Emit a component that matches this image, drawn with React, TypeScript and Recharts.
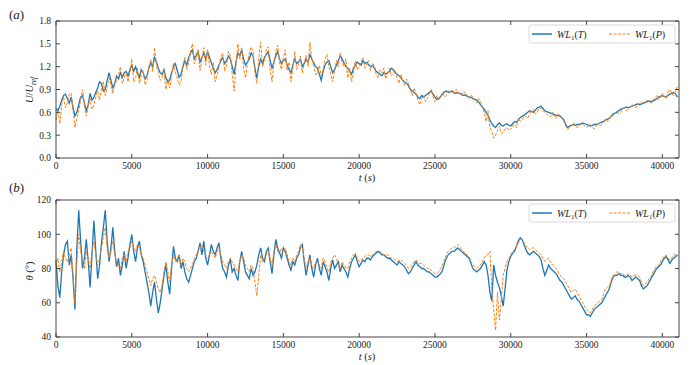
import React from 'react';
import { LineChart, Line, XAxis, YAxis } from 'recharts';

const TIMES = [
  0,125,250,375,500,625,750,875,1000,1125,1250,1375,1500,1625,1750,1875,2000,2125,2250,2375,
  2500,2625,2750,2875,3000,3125,3250,3375,3500,3625,3750,3875,4000,4125,4250,4375,4500,4625,4750,4875,
  5000,5125,5250,5375,5500,5625,5750,5875,6000,6125,6250,6375,6500,6625,6750,6875,7000,7125,7250,7375,
  7500,7625,7750,7875,8000,8125,8250,8375,8500,8625,8750,8875,9000,9125,9250,9375,9500,9625,9750,9875,
  10000,10125,10250,10375,10500,10625,10750,10875,11000,11125,11250,11375,11500,11625,11750,11875,12000,12125,12250,12375,
  12500,12625,12750,12875,13000,13125,13250,13375,13500,13625,13750,13875,14000,14125,14250,14375,14500,14625,14750,14875,
  15000,15125,15250,15375,15500,15625,15750,15875,16000,16125,16250,16375,16500,16625,16750,16875,17000,17125,17250,17375,
  17500,17625,17750,17875,18000,18125,18250,18375,18500,18625,18750,18875,19000,19125,19250,19375,19500,19625,19750,19875,
  20000,20125,20250,20375,20500,20625,20750,20875,21000,21125,21250,21375,21500,21625,21750,21875,22000,22125,22250,22375,
  22500,22625,22750,22875,23000,23125,23250,23375,23500,23625,23750,23875,24000,24125,24250,24375,24500,24625,24750,24875,
  25000,25125,25250,25375,25500,25625,25750,25875,26000,26125,26250,26375,26500,26625,26750,26875,27000,27125,27250,27375,
  27500,27625,27750,27875,28000,28125,28250,28375,28500,28625,28750,28875,29000,29125,29250,29375,29500,29625,29750,29875,
  30000,30125,30250,30375,30500,30625,30750,30875,31000,31125,31250,31375,31500,31625,31750,31875,32000,32125,32250,32375,
  32500,32625,32750,32875,33000,33125,33250,33375,33500,33625,33750,33875,34000,34125,34250,34375,34500,34625,34750,34875,
  35000,35125,35250,35375,35500,35625,35750,35875,36000,36125,36250,36375,36500,36625,36750,36875,37000,37125,37250,37375,
  37500,37625,37750,37875,38000,38125,38250,38375,38500,38625,38750,38875,39000,39125,39250,39375,39500,39625,39750,39875,
  40000,40125,40250,40375,40500,40625,40750,40875,41000,
];

// Panel (a): U/U_ref
const TOP_T = [
  0.65,0.62,0.68,0.76,0.82,0.84,0.78,0.72,0.80,0.66,0.55,0.60,0.70,0.80,0.82,0.72,0.62,0.70,0.85,0.76,
  0.80,0.86,0.92,1.00,0.98,0.88,0.90,1.02,1.12,1.02,0.92,0.98,1.08,1.04,1.12,1.06,1.12,1.14,1.08,1.16,
  1.22,1.14,1.20,1.12,1.06,1.16,1.12,1.04,1.08,1.18,1.25,1.20,1.32,1.26,1.18,1.12,1.10,1.16,1.05,1.00,
  1.02,1.12,1.20,1.24,1.15,1.06,1.10,1.20,1.28,1.22,1.32,1.38,1.42,1.30,1.35,1.40,1.26,1.32,1.38,1.30,
  1.40,1.32,1.25,1.18,1.12,1.16,1.22,1.28,1.32,1.24,1.28,1.34,1.30,1.20,1.10,1.26,1.38,1.34,1.42,1.30,
  1.22,1.26,1.30,1.38,1.34,1.18,1.05,1.20,1.30,1.24,1.32,1.36,1.40,1.28,1.18,1.26,1.34,1.40,1.30,1.24,
  1.28,1.30,1.22,1.16,1.12,1.22,1.30,1.24,1.26,1.30,1.20,1.24,1.30,1.26,1.36,1.30,1.25,1.20,1.18,1.10,
  1.02,1.14,1.22,1.26,1.28,1.20,1.12,1.16,1.22,1.28,1.34,1.30,1.25,1.20,1.18,1.14,1.10,1.18,1.22,1.26,
  1.24,1.22,1.28,1.24,1.26,1.22,1.20,1.22,1.18,1.14,1.12,1.10,1.08,1.12,1.10,1.12,1.14,1.18,1.16,1.12,
  1.10,1.08,1.06,1.02,1.00,0.98,0.95,0.90,0.88,0.86,0.84,0.80,0.78,0.82,0.80,0.82,0.84,0.86,0.88,0.84,
  0.80,0.77,0.78,0.81,0.84,0.87,0.88,0.86,0.87,0.88,0.86,0.85,0.86,0.85,0.84,0.82,0.83,0.81,0.80,0.80,
  0.78,0.77,0.76,0.74,0.70,0.67,0.64,0.60,0.56,0.50,0.45,0.42,0.40,0.44,0.46,0.43,0.42,0.44,0.45,0.43,
  0.42,0.45,0.48,0.47,0.50,0.53,0.55,0.56,0.58,0.60,0.62,0.61,0.60,0.63,0.66,0.67,0.68,0.65,0.62,0.61,
  0.60,0.59,0.58,0.57,0.56,0.56,0.55,0.53,0.50,0.44,0.40,0.42,0.43,0.44,0.43,0.44,0.44,0.45,0.46,0.45,
  0.44,0.43,0.42,0.43,0.44,0.44,0.45,0.46,0.47,0.48,0.50,0.51,0.52,0.55,0.58,0.59,0.60,0.62,0.64,0.65,
  0.66,0.67,0.66,0.67,0.68,0.69,0.70,0.71,0.70,0.71,0.72,0.73,0.74,0.75,0.74,0.75,0.76,0.78,0.80,0.81,
  0.82,0.81,0.80,0.82,0.84,0.85,0.86,0.84,0.80,
];
const TOP_P = [
  0.50,0.62,0.45,0.70,0.80,0.66,0.72,0.84,0.85,0.62,0.40,0.52,0.62,0.76,0.90,0.70,0.55,0.68,0.78,0.64,
  0.70,0.80,0.88,0.76,0.92,1.00,0.82,0.94,1.05,0.96,0.85,0.96,1.02,1.10,1.20,0.98,1.05,1.14,1.00,1.12,
  1.30,1.00,1.05,1.18,0.98,1.08,1.15,0.96,1.02,1.20,1.30,1.14,1.45,1.22,1.12,1.02,1.05,1.15,0.90,1.04,
  0.92,1.08,1.25,1.12,1.05,0.96,1.00,1.22,1.32,1.16,1.25,1.40,1.50,1.24,1.30,1.42,1.15,1.28,1.45,1.22,
  1.42,1.20,1.10,1.26,1.00,1.08,1.20,1.32,1.38,1.14,1.22,1.40,1.35,1.10,0.88,1.22,1.50,1.30,1.45,1.18,
  1.05,1.24,1.38,1.46,1.40,1.12,0.98,1.30,1.52,1.20,1.28,1.42,1.46,1.16,1.00,1.24,1.40,1.48,1.25,1.16,
  1.32,1.42,1.15,1.26,1.00,1.18,1.40,1.16,1.22,1.34,1.12,1.26,1.35,1.20,1.52,1.32,1.20,1.10,1.10,1.22,
  1.08,1.16,1.30,1.36,1.20,1.10,1.00,1.14,1.28,1.20,1.38,1.26,1.20,1.30,1.05,1.18,1.00,1.12,1.28,1.16,
  1.20,1.26,1.32,1.18,1.22,1.28,1.15,1.24,1.22,1.10,1.05,1.16,1.12,1.18,1.04,1.10,1.18,1.08,1.12,1.16,
  1.05,0.98,1.10,1.02,0.95,1.04,0.98,0.90,0.82,0.92,0.85,0.76,0.70,0.78,0.82,0.74,0.78,0.84,0.90,0.80,
  0.74,0.82,0.76,0.80,0.86,0.80,0.82,0.88,0.89,0.86,0.84,0.90,0.88,0.84,0.82,0.87,0.86,0.82,0.78,0.83,
  0.80,0.76,0.72,0.78,0.74,0.66,0.60,0.48,0.62,0.40,0.35,0.26,0.30,0.36,0.42,0.32,0.34,0.38,0.40,0.36,
  0.38,0.42,0.44,0.40,0.52,0.48,0.50,0.54,0.55,0.52,0.58,0.62,0.64,0.58,0.60,0.66,0.65,0.62,0.60,0.58,
  0.56,0.54,0.60,0.55,0.52,0.58,0.56,0.52,0.48,0.42,0.38,0.40,0.42,0.46,0.44,0.40,0.42,0.44,0.45,0.42,
  0.40,0.43,0.44,0.41,0.38,0.42,0.46,0.42,0.44,0.47,0.50,0.48,0.52,0.56,0.55,0.59,0.62,0.58,0.60,0.64,
  0.66,0.62,0.64,0.68,0.70,0.68,0.66,0.70,0.72,0.74,0.70,0.73,0.76,0.74,0.72,0.76,0.78,0.82,0.76,0.80,
  0.85,0.82,0.78,0.86,0.90,0.84,0.82,0.88,0.95,
];

// Panel (b): theta (deg)
const BOT_T = [
  85,70,63,78,88,94,96,82,88,74,56,92,114,96,80,86,97,84,69,88,
  108,90,74,82,95,104,114,96,84,92,104,90,81,86,76,82,90,80,86,94,
  100,90,84,92,96,88,84,78,72,66,58,66,72,62,54,60,68,76,82,72,
  65,80,93,86,84,88,80,84,78,74,72,76,80,84,86,90,95,88,96,86,
  82,88,94,90,88,92,95,86,80,78,75,82,85,78,80,76,73,84,90,84,
  78,76,74,80,76,78,82,88,92,86,84,90,92,84,77,88,97,92,89,86,
  92,90,86,82,79,84,82,86,88,92,94,84,76,82,88,80,75,82,86,80,
  76,84,81,78,73,80,85,80,82,84,78,82,80,78,75,80,84,86,88,84,
  81,83,85,84,86,86,85,87,88,89,90,89,88,88,87,86,86,85,84,83,
  82,84,83,82,81,79,77,78,80,82,84,82,81,80,80,79,78,78,77,76,
  75,75,76,77,79,83,86,88,89,90,90,91,92,91,90,89,88,87,86,83,
  80,79,78,79,80,82,84,82,76,66,61,82,76,72,69,64,58,68,79,84,
  87,89,90,93,96,98,97,94,91,89,88,89,90,89,88,87,85,80,76,79,
  82,80,79,78,77,75,73,72,70,68,66,64,62,63,64,62,61,59,57,55,
  53,53,52,54,56,57,58,59,60,62,64,66,68,72,75,76,76,77,76,76,
  75,75,76,75,73,74,75,74,73,70,68,69,70,72,74,76,78,80,81,82,
  84,86,87,85,83,85,86,87,88,
];
const BOT_P = [
  82,86,78,84,90,86,84,88,92,76,60,84,100,90,86,80,90,86,80,90,
  96,88,82,86,92,98,104,92,86,90,96,88,84,82,80,86,88,84,90,92,
  96,92,90,94,92,88,86,82,78,74,70,74,76,72,68,66,70,78,84,78,
  72,82,88,84,86,88,82,86,84,80,78,80,82,86,88,90,92,94,90,88,
  86,88,90,88,86,90,92,88,84,82,80,84,86,84,82,80,78,84,88,86,
  82,80,78,82,80,72,64,76,88,84,86,88,90,86,82,90,94,90,88,92,
  90,92,88,84,82,86,84,88,90,94,92,86,80,84,86,82,80,84,84,82,
  80,86,84,80,78,84,86,88,86,82,80,84,82,80,80,84,86,88,88,86,
  84,85,86,87,88,88,87,88,89,90,90,90,89,88,88,88,87,86,86,85,
  84,85,85,84,83,82,80,81,82,84,85,84,83,83,82,81,80,80,79,78,
  77,77,78,80,82,85,88,90,91,92,92,93,94,93,91,90,89,88,87,84,
  82,81,80,81,82,84,86,88,88,90,68,56,44,66,50,62,76,80,84,86,
  88,90,91,93,95,97,97,95,93,92,91,92,92,91,90,89,88,86,84,85,
  86,84,82,81,80,78,76,75,74,72,70,68,66,67,68,66,64,62,60,58,
  56,55,54,56,58,59,60,61,62,65,68,69,70,73,76,77,78,78,77,77,
  76,76,77,76,75,76,76,76,75,72,70,71,72,74,75,78,80,81,82,84,
  86,87,88,86,85,86,88,88,87,
];

const X_TICKS = [0, 5000, 10000, 15000, 20000, 25000, 30000, 35000, 40000];
const TOP_Y_TICKS = [0, 0.3, 0.6, 0.9, 1.2, 1.5, 1.8];
const BOT_Y_TICKS = [40, 60, 80, 100, 120];
const X_MAX = 41100;
const X_DOMAIN: [number, number] = [0, X_MAX];

const BLUE = '#1f77b4';
const ORANGE = '#ff7f0e';
const AXIS = '#444';
const SERIF = '"Liberation Serif", "DejaVu Serif", serif';

// layout of the plot areas (page pixels)
const PLOT_L = 56;
const PLOT_R = 679;
const TOP_H = 182;
const BOT_H = 183;
const TOP_MARGIN_A = 21;
const TOP_MARGIN_B = 18;
const XAXIS_H_A = 24;
const XAXIS_H_B = 28;

const topData = TIMES.map((t, i) => ({ t, T: TOP_T[i], P: TOP_P[i] }));
const botData = TIMES.map((t, i) => ({ t, T: BOT_T[i], P: BOT_P[i] }));

const tickStyle = { fontSize: 9.5, fill: '#222', fontFamily: SERIF };

function Panel({ data, yDomain, yTicks, fmt, height, top, xAxisHeight }: any) {
  return (
    <LineChart width={692} height={height} data={data} margin={{ top, right: 692 - PLOT_R, bottom: 0, left: 0 }}>
      <XAxis
        dataKey="t" type="number" domain={X_DOMAIN} ticks={X_TICKS}
        tickSize={-4} tickMargin={8} height={xAxisHeight}
        axisLine={{ stroke: AXIS }} tickLine={{ stroke: AXIS }} tick={tickStyle}
      />
      <YAxis
        type="number" domain={yDomain} ticks={yTicks} tickFormatter={fmt}
        tickSize={-4} tickMargin={9} width={PLOT_L}
        axisLine={{ stroke: AXIS }} tickLine={{ stroke: AXIS }} tick={tickStyle}
      />
      <Line dataKey="T" stroke={BLUE} strokeWidth={1.3} dot={false} isAnimationActive={false} type="linear" />
      <Line dataKey="P" stroke={ORANGE} strokeWidth={1} strokeDasharray="3 1.5" dot={false} isAnimationActive={false} type="linear" />
    </LineChart>
  );
}

// top and right spines with inward ticks, matched to the same linear layout as the plot area
function Frame({ y0Page, plotTop, plotBottom, yDomain, yTicks }: any) {
  const top = y0Page + plotTop;
  const bottom = y0Page + plotBottom;
  const sx = (t: number) => PLOT_L + (t / X_MAX) * (PLOT_R - PLOT_L);
  const sy = (v: number) => top + ((yDomain[1] - v) / (yDomain[1] - yDomain[0])) * (bottom - top);
  return (
    <g stroke={AXIS} strokeWidth={1}>
      <line x1={PLOT_L} x2={PLOT_R} y1={top} y2={top} />
      <line x1={PLOT_R} x2={PLOT_R} y1={top} y2={bottom} />
      {X_TICKS.map((t) => (
        <line key={'x' + t} x1={sx(t)} x2={sx(t)} y1={top} y2={top + 4} />
      ))}
      {yTicks.map((v: number) => (
        <line key={'y' + v} x1={PLOT_R - 4} x2={PLOT_R} y1={sy(v)} y2={sy(v)} />
      ))}
    </g>
  );
}

function LegendBox({ y }: { y: number }) {
  const ly = y + 9;
  const ty = y + 12.5;
  const label = (x: number, s: string) => (
    <text x={x} y={ty} fontFamily={SERIF} fontSize={10} fill="#222">
      <tspan fontStyle="italic">WL</tspan>
      <tspan fontSize={7} dy={2.5}>1</tspan>
      <tspan dy={-2.5}>(</tspan>
      <tspan fontStyle="italic">{s}</tspan>
      <tspan>)</tspan>
    </text>
  );
  return (
    <g>
      <rect x={529} y={y} width={146} height={18} rx={2} fill="#fff" fillOpacity={0.8} stroke="#d0d0d0" strokeWidth={0.8} />
      <line x1={532} x2={552} y1={ly} y2={ly} stroke={BLUE} strokeWidth={1.5} />
      {label(557, 'T')}
      <line x1={609} x2={630} y1={ly} y2={ly} stroke={ORANGE} strokeWidth={1} strokeDasharray="3 1.5" />
      {label(635, 'P')}
    </g>
  );
}

export default function App() {
  return (
    <div style={{ position: 'absolute', left: 0, top: 0, width: 692, height: 365 }}>
      <div style={{ position: 'absolute', left: 0, top: 0 }}>
        <Panel data={topData} yDomain={[0, 1.8]} yTicks={TOP_Y_TICKS} fmt={(v: number) => v.toFixed(1)} height={TOP_H} top={TOP_MARGIN_A} xAxisHeight={XAXIS_H_A} />
      </div>
      <div style={{ position: 'absolute', left: 0, top: TOP_H }}>
        <Panel data={botData} yDomain={[40, 120]} yTicks={BOT_Y_TICKS} fmt={(v: number) => String(v)} height={BOT_H} top={TOP_MARGIN_B} xAxisHeight={XAXIS_H_B} />
      </div>
      <svg width={692} height={365} style={{ position: 'absolute', left: 0, top: 0, pointerEvents: 'none' }}>
        <Frame y0Page={0} plotTop={TOP_MARGIN_A} plotBottom={TOP_H - XAXIS_H_A} yDomain={[0, 1.8]} yTicks={TOP_Y_TICKS} />
        <Frame y0Page={TOP_H} plotTop={TOP_MARGIN_B} plotBottom={BOT_H - XAXIS_H_B} yDomain={[40, 120]} yTicks={BOT_Y_TICKS} />
        <text x={9} y={19} fontFamily={SERIF} fontSize={13} fill="#222">
          (<tspan fontStyle="italic">a</tspan>)
        </text>
        <text x={9} y={192} fontFamily={SERIF} fontSize={13} fill="#222">
          (<tspan fontStyle="italic">b</tspan>)
        </text>
        <text transform="translate(33,90) rotate(-90)" textAnchor="middle" fontFamily={SERIF} fontSize={10.5} fill="#222">
          <tspan fontStyle="italic">U</tspan>
          <tspan>/</tspan>
          <tspan fontStyle="italic">U</tspan>
          <tspan fontStyle="italic" fontSize={7.5} dy={2.5}>ref</tspan>
        </text>
        <text transform="translate(33,271) rotate(-90)" textAnchor="middle" fontFamily={SERIF} fontSize={10.5} fill="#222">
          <tspan fontStyle="italic">θ</tspan> (°)
        </text>
        <text x={367} y={181} textAnchor="middle" fontFamily={SERIF} fontSize={10.5} fill="#222">
          <tspan fontStyle="italic">t</tspan> (<tspan fontStyle="italic">s</tspan>)
        </text>
        <text x={367} y={360} textAnchor="middle" fontFamily={SERIF} fontSize={10.5} fill="#222">
          <tspan fontStyle="italic">t</tspan> (<tspan fontStyle="italic">s</tspan>)
        </text>
        <LegendBox y={25} />
        <LegendBox y={204} />
      </svg>
    </div>
  );
}
